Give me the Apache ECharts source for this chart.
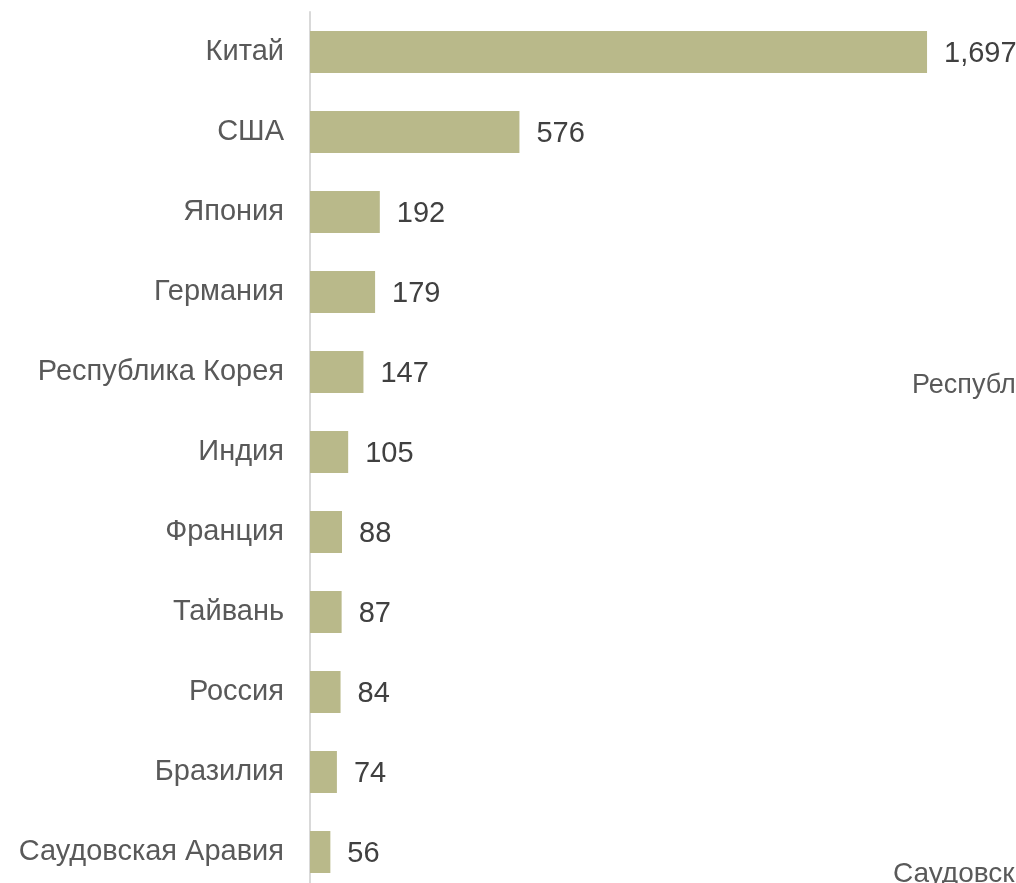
<!DOCTYPE html>
<html>
<head>
<meta charset="utf-8">
<script src="https://cdn.jsdelivr.net/npm/echarts@6/dist/echarts.min.js"></script>
<style>
  html, body { margin: 0; padding: 0; background: #ffffff; overflow: hidden; }
  #chart { width: 1016px; height: 900px; }
</style>
</head>
<body>
<div id="chart"></div>
<script>
// Countries, top to bottom
const countries = [
  'Китай', 'США', 'Япония', 'Германия', 'Республика Корея', 'Индия',
  'Франция', 'Тайвань', 'Россия', 'Бразилия', 'Саудовская Аравия'
];
const values = [1697, 576, 192, 179, 147, 105, 88, 87, 84, 74, 56];

const FONT = '"Liberation Sans", Arial, sans-serif';
const chart = echarts.init(document.getElementById('chart'), null, { renderer: 'canvas' });

chart.setOption({
  animation: false,
  backgroundColor: '#ffffff',
  grid: { left: 310, top: 12, width: 654.5, height: 880, containLabel: false },
  xAxis: {
    type: 'value', min: 0, max: 1800,
    show: false
  },
  yAxis: {
    type: 'category',
    data: countries,
    inverse: true,
    axisLine: { show: true, lineStyle: { color: '#d9d9d9', width: 2 } },
    axisTick: { show: false },
    axisLabel: {
      margin: 26, color: '#595959', fontSize: 29, fontFamily: FONT,
      padding: [5, 0, 0, 0]
    }
  },
  series: [{
    type: 'bar',
    data: values,
    barWidth: 42,
    itemStyle: { color: '#b9b98a' },
    label: {
      show: true, position: 'right', distance: 17, offset: [0, 2],
      color: '#404040', fontSize: 29, fontFamily: FONT,
      formatter: p => p.value.toLocaleString('en-US')
    }
  }],
  graphic: [
    { type: 'text', x: 912, y: 386,
      style: { text: 'Республика Корея', fill: '#595959', font: '27px ' + FONT,
               verticalAlign: 'middle' } },
    { type: 'text', x: 893, y: 874,
      style: { text: 'Саудовская Аравия', fill: '#595959', font: '28px ' + FONT,
               verticalAlign: 'middle' } }
  ]
});
</script>
</body>
</html>
